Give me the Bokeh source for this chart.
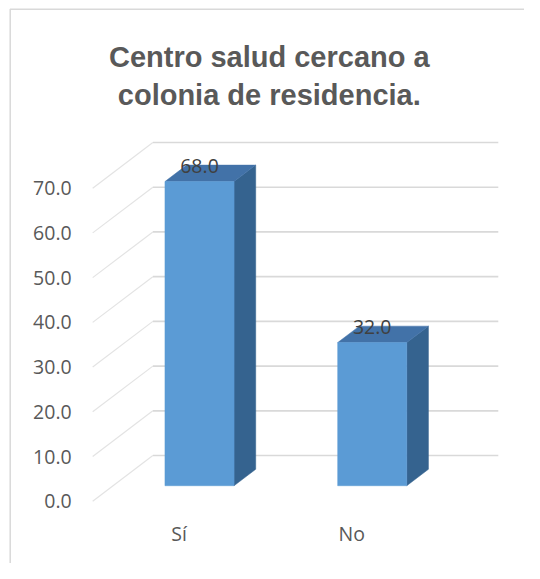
from bokeh.plotting import figure
from bokeh.models import Range1d
from bokeh.core.properties import value
from bokeh.embed import file_html
from bokeh.resources import INLINE

# ---- data ----
categories = ["Sí", "No"]
values = [68.0, 32.0]
y_ticks = [0, 10, 20, 30, 40, 50, 60, 70]
y_tick_labels = ["0.0", "10.0", "20.0", "30.0", "40.0", "50.0", "60.0", "70.0"]
data_labels = ["68.0", "32.0"]
title_lines = ["Centro salud cercano a", "colonia de residencia."]

# ---- layout ----
W, H = 524, 563
SX, SY = W / 540.0, H / 579.0

PX_PER_U = 178.0 * SX      # pixels per category unit
PX_PER_V = 4.6 * SY        # pixels per value unit
DX = 62.0 / 178.0          # depth shift in x (category units, full depth)
DY = 47.0 / 4.6            # depth shift in y (value units, full depth)
T0, T1 = 0.34, 0.70        # bar depth span
HALF_W = 0.2
N = len(categories)

ORIGIN_X, ORIGIN_Y = 95.0 * SX, 515.0 * SY  # pixel of (u=0, v=0)
x0 = -ORIGIN_X / PX_PER_U
x1 = (W - ORIGIN_X) / PX_PER_U
y1 = ORIGIN_Y / PX_PER_V
y0 = (ORIGIN_Y - H) / PX_PER_V


def px_to_u(px):
    return (px * SX - ORIGIN_X) / PX_PER_U


def py_to_v(py):
    return (ORIGIN_Y - py * SY) / PX_PER_V


p = figure(width=W, height=H, x_range=Range1d(x0, x1), y_range=Range1d(y0, y1),
           output_backend="svg", toolbar_location=None,
           x_axis_type=None, y_axis_type=None, min_border=0)
p.outline_line_color = None
p.background_fill_color = "white"
p.border_fill_color = "white"

# chart border (light gray, left and top edges visible)
bx, by = px_to_u(10), py_to_v(9)
p.line([bx, bx, x1 + 1], [y0 - 1, by, by], line_color="#D9D9D9", line_width=1.5)

# back wall gridlines
p.multi_line(xs=[[0 + DX, N + DX] for t in y_ticks],
             ys=[[t + DY, t + DY] for t in y_ticks],
             line_color="#D9D9D9", line_width=1.6)
# side wall gridlines
p.multi_line(xs=[[0, DX] for t in y_ticks],
             ys=[[t, t + DY] for t in y_ticks],
             line_color="#E3E3E3", line_width=1.2)

# bars
centers = [i + 0.5 for i in range(N)]
front_xs, front_ys, top_xs, top_ys, side_xs, side_ys = [], [], [], [], [], []
for c, v in zip(centers, values):
    l, r = c - HALF_W, c + HALF_W
    front_xs.append([l + DX*T0, r + DX*T0, r + DX*T0, l + DX*T0])
    front_ys.append([DY*T0, DY*T0, v + DY*T0, v + DY*T0])
    top_xs.append([l + DX*T0, r + DX*T0, r + DX*T1, l + DX*T1])
    top_ys.append([v + DY*T0, v + DY*T0, v + DY*T1, v + DY*T1])
    side_xs.append([r + DX*T0, r + DX*T1, r + DX*T1, r + DX*T0])
    side_ys.append([DY*T0, DY*T1, v + DY*T1, v + DY*T0])

p.patches(side_xs, side_ys, fill_color="#35638F", line_color="#35638F", line_width=0.5)
p.patches(top_xs, top_ys, fill_color="#4272A8", line_color="#4272A8", line_width=0.5)
p.patches(front_xs, front_ys, fill_color="#5B9BD5", line_color="#5B9BD5", line_width=0.5)

# y tick labels
p.text(x=[0]*len(y_ticks), y=y_ticks, text=y_tick_labels, x_offset=-21,
       text_align="right", text_baseline="middle",
       text_font=value("Open Sans"), text_font_size="19.5px", text_color="#595959")

# category labels
p.text(x=centers, y=[0]*N, text=categories, y_offset=32,
       text_align="center", text_baseline="middle",
       text_font=value("Open Sans"), text_font_size="19.5px", text_color="#595959")

# data labels
p.text(x=[c + DX*T0 for c in centers], y=[v + DY*T1 for v in values], text=data_labels,
       y_offset=1, text_align="center", text_baseline="alphabetic",
       text_font=value("Open Sans"), text_font_size="19.5px", text_color="#404040")

# title
title_x = px_to_u(277)
p.text(x=[title_x, title_x], y=[py_to_v(58), py_to_v(97)],
       text=title_lines, text_align="center", text_baseline="alphabetic",
       text_font=value("Liberation Sans"), text_font_style="bold",
       text_font_size="29px", text_color="#595959")

open("out.html", "w").write(file_html(p, INLINE))
